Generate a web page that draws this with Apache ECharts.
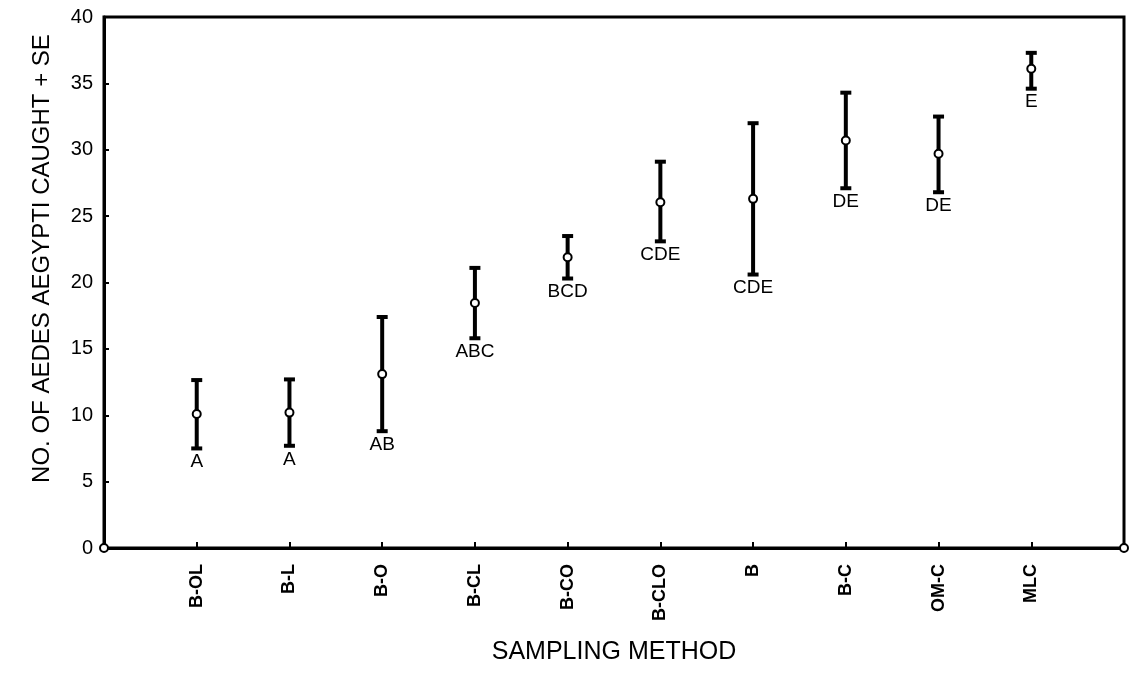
<!DOCTYPE html>
<html><head><meta charset="utf-8">
<script src="https://cdn.jsdelivr.net/npm/echarts@6/dist/echarts.min.js"></script>
<style>html,body{margin:0;padding:0;background:#fff}#c{width:1132px;height:678px}</style>
</head><body><div id="c"></div>
<script>
const categories = ['B-OL','B-L','B-O','B-CL','B-CO','B-CLO','B','B-C','OM-C','MLC'];
const means = [10.1, 10.2, 13.1, 18.45, 21.9, 26.05, 26.3, 30.7, 29.7, 36.1];
const upper = [12.65, 12.7, 17.4, 21.1, 23.5, 29.1, 32.0, 34.3, 32.5, 37.3];
const lower = [7.5, 7.7, 8.8, 15.8, 20.3, 23.1, 20.6, 27.1, 26.8, 34.6];
const groups = ['A','A','AB','ABC','BCD','CDE','CDE','DE','DE','E'];
const yMin = 0, yMax = 40, yStep = 5;
const axisEnds = [[0, 0], [categories.length + 1, 0]];

const FONT = '"Liberation Sans", Arial, Helvetica, sans-serif';
const chart = echarts.init(document.getElementById('c'), null, {renderer: 'canvas'});

const errData = categories.map((c, i) => [i + 1, means[i], lower[i], upper[i]]);

chart.setOption({
  animation: false,
  backgroundColor: '#fff',
  grid: {left: 104, right: 8, top: 17, bottom: 130, show: true, borderColor: '#000', borderWidth: 3, outerBoundsMode: 'none'},
  xAxis: {
    type: 'value', min: 0, max: categories.length + 1, interval: 1,
    name: 'SAMPLING METHOD', nameLocation: 'middle', nameGap: 92,
    nameTextStyle: {fontFamily: FONT, fontSize: 25, color: '#000'},
    axisLine: {show: true, onZero: false, lineStyle: {color: '#000', width: 3}},
    axisTick: {show: true, inside: true, length: 6, lineStyle: {color: '#000', width: 2}},
    splitLine: {show: false},
    axisLabel: {
      rotate: 90, margin: 16, color: '#000', fontFamily: FONT, fontSize: 18, fontWeight: 'bold',
      formatter: v => categories[v - 1] || ''
    }
  },
  yAxis: {
    type: 'value', min: yMin, max: yMax, interval: yStep,
    name: 'NO. OF AEDES AEGYPTI CAUGHT + SE', nameLocation: 'middle', nameGap: 50,
    nameTextStyle: {fontFamily: FONT, fontSize: 24, color: '#000', padding: [0, 0, 0, 48]},
    axisLine: {show: true, lineStyle: {color: '#000', width: 3}},
    axisTick: {show: true, inside: true, length: 5, lineStyle: {color: '#000', width: 2}},
    splitLine: {show: false},
    axisLabel: {margin: 11, color: '#000', fontFamily: FONT, fontSize: 20}
  },
  series: [
    {
      type: 'custom',
      data: errData,
      encode: {x: 0, y: [1, 2, 3]},
      clip: false,
      renderItem: function (params, api) {
        const x = api.value(0);
        const pM = api.coord([x, api.value(1)]);
        const pL = api.coord([x, api.value(2)]);
        const pH = api.coord([x, api.value(3)]);
        const cw = 5.5;
        return {
          type: 'group',
          children: [
            {type: 'line', shape: {x1: pL[0], y1: pL[1], x2: pH[0], y2: pH[1]}, style: {stroke: '#000', lineWidth: 4}},
            {type: 'line', shape: {x1: pL[0] - cw, y1: pL[1], x2: pL[0] + cw, y2: pL[1]}, style: {stroke: '#000', lineWidth: 4}},
            {type: 'line', shape: {x1: pH[0] - cw, y1: pH[1], x2: pH[0] + cw, y2: pH[1]}, style: {stroke: '#000', lineWidth: 4}},
            {type: 'circle', shape: {cx: pM[0], cy: pM[1], r: 4}, style: {fill: '#fff', stroke: '#000', lineWidth: 2}},
            {type: 'text', style: {x: pL[0], y: pL[1] + 4, text: groups[params.dataIndex], fill: '#000',
              fontFamily: FONT, fontSize: 19, align: 'center', verticalAlign: 'top'}}
          ]
        };
      }
    },
    {
      type: 'custom',
      data: axisEnds,
      encode: {x: 0, y: 1},
      clip: false,
      z: 10,
      silent: true,
      renderItem: function (params, api) {
        const p = api.coord([api.value(0), api.value(1)]);
        return {type: 'circle', shape: {cx: p[0], cy: p[1], r: 4}, style: {fill: '#fff', stroke: '#000', lineWidth: 2}};
      }
    }
  ]
});
</script>
</body></html>
